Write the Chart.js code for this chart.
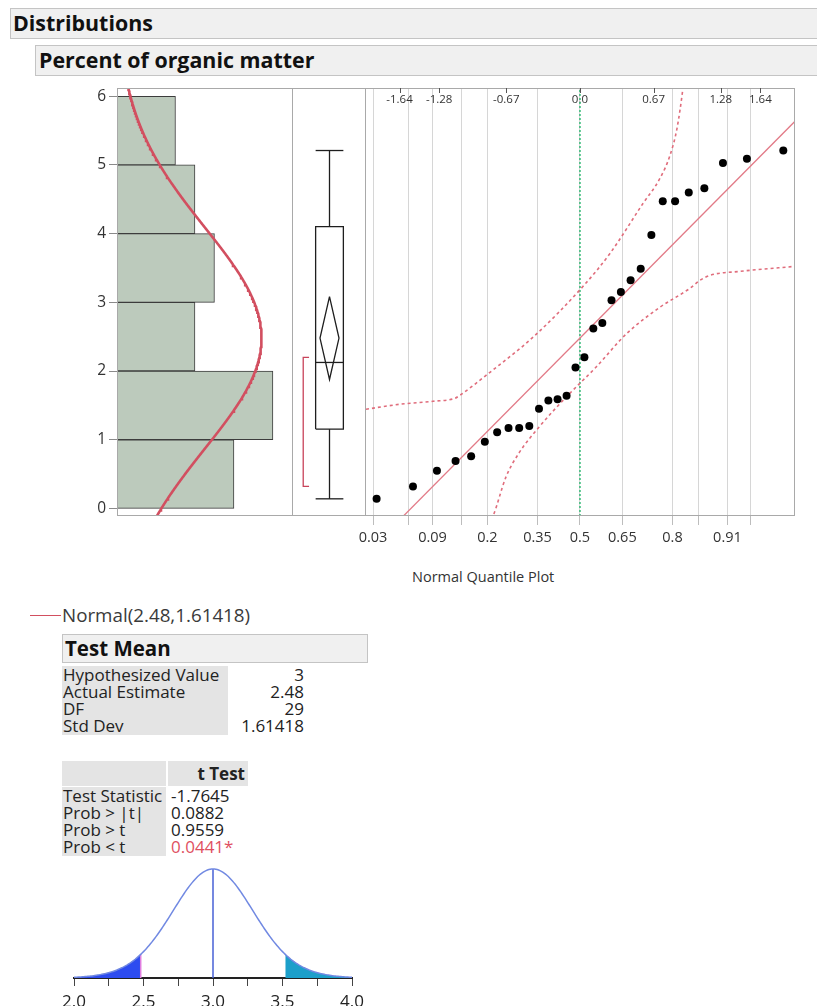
<!DOCTYPE html>
<html>
<head>
<meta charset="utf-8">
<title>Distributions - Percent of organic matter</title>
<script src="https://cdn.jsdelivr.net/npm/chart.js@4.4.1/dist/chart.umd.min.js"></script>
<style>
  html, body { margin: 0; padding: 0; background: #fff; }
  body { width: 817px; height: 1006px; position: relative; overflow: hidden;
         font-family: "Open Sans", "Noto Sans", sans-serif; color: #222; }
  canvas { position: absolute; }
  .hdr { position: absolute; box-sizing: border-box; background: #f0f0f0;
         border: 1px solid #c4c4c4; border-right: none; font-weight: bold;
         color: #111; white-space: nowrap; }
  .txt { position: absolute; white-space: nowrap; }
  .cell { position: absolute; background: #e4e4e4; }
</style>
</head>
<body>
<div class="hdr" style="left:10px;top:8px;width:807px;height:31px;font-size:21.4px;line-height:28px;padding-left:2px">Distributions</div>
<div class="hdr" style="left:35px;top:45px;width:782px;height:31px;font-size:21.4px;line-height:28px;padding-left:3px">Percent of organic matter</div>

<canvas id="hist" width="223" height="440" style="left:70px;top:80px"></canvas>
<canvas id="box" width="73" height="440" style="left:293px;top:80px"></canvas>
<canvas id="nqp" width="477" height="476" style="left:340px;top:80px"></canvas>
<div class="txt" style="left:412px;top:567px;font-size:14.5px;line-height:20px;color:#333">Normal Quantile Plot</div>

<div id="report"></div>
<canvas id="tdist" width="340" height="146" style="left:44px;top:860px"></canvas>

<script>
// ---- Percent of organic matter, 30 soil samples (sorted) ----
const organicMatter = [0.14, 0.32, 0.55, 0.69, 0.76, 0.97, 1.11, 1.17, 1.17, 1.20,
                       1.45, 1.57, 1.59, 1.64, 2.05, 2.20, 2.62, 2.70, 3.03, 3.15,
                       3.32, 3.49, 3.98, 4.47, 4.47, 4.60, 4.66, 5.03, 5.09, 5.21];

// histogram bins and counts
const histBinStarts = [0, 1, 2, 3, 4, 5];
const histCounts = [6, 8, 4, 5, 4, 3];
const valueTicks = [0, 1, 2, 3, 4, 5, 6];

// fitted normal
const fitMean = 2.48;
const fitSD = 1.61418;

// normal quantile plot axes
const probTicks  = [0.03, 0.06, 0.09, 0.14, 0.2, 0.35, 0.5, 0.65, 0.8, 0.86, 0.91, 0.94];
const probLabels = ["0.03", "", "0.09", "", "0.2", "0.35", "0.5", "0.65", "0.8", "", "0.91", ""];
const quantileTicks  = [-1.64, -1.28, -0.67, 0, 0.67, 1.28, 1.64];
const quantileLabels = ["-1.64", "-1.28", "-0.67", "0.0", "0.67", "1.28", "1.64"];

// confidence bands of the quantile plot (normal quantile, value)
const upperBandZ = [-1.945, -1.636, -1.336, -1.136, -1.091, -0.818, -0.418, 0.036, 0.273, 0.573, 0.727, 0.818, 0.882, 0.936, 0.964];
const upperBandY = [1.444, 1.517, 1.560, 1.604, 1.648, 1.982, 2.505, 3.247, 3.712, 4.439, 4.803, 5.137, 5.530, 6.112, 6.52];
const lowerBandZ = [-0.836, -0.791, -0.673, -0.555, -0.373, -0.127, 0.145, 0.427, 0.727, 1.0, 1.091, 1.182, 1.455, 1.955];
const lowerBandY = [-0.228, -0.112, 0.456, 0.805, 1.182, 1.618, 2.055, 2.549, 2.928, 3.204, 3.32, 3.393, 3.451, 3.524];

// Test Mean report
const testMeanLabels = ["Hypothesized Value", "Actual Estimate", "DF", "Std Dev"];
const testMeanValues = ["3", "2.48", "29", "1.61418"];
const tTestLabels = ["Test Statistic", "Prob > |t|", "Prob > t", "Prob < t"];
const tTestValues = ["-1.7645", "0.0882", "0.9559", "0.0441*"];
const hypothesizedMean = 3;
const degreesFreedom = 29;
const tStatistic = -1.7645;
const tCrit95 = 2.0452;

// t-distribution axis
const tAxisTicks  = [2.0, 2.25, 2.5, 2.75, 3.0, 3.25, 3.5, 3.75, 4.0];
const tAxisLabels = ["2.0", "", "2.5", "", "3.0", "", "3.5", "", "4.0"];

// ---- helpers ----
function qnorm(p) {
  const a = [-3.969683028665376e+01, 2.209460984245205e+02, -2.759285104469687e+02, 1.383577518672690e+02, -3.066479806614716e+01, 2.506628277459239e+00];
  const b = [-5.447609879822406e+01, 1.615858368580409e+02, -1.556989798598866e+02, 6.680131188771972e+01, -1.328068155288572e+01];
  const c = [-7.784894002430293e-03, -3.223964580411365e-01, -2.400758277161838e+00, -2.549732539343734e+00, 4.374664141464968e+00, 2.938163982698783e+00];
  const d = [7.784695709041462e-03, 3.224671290700398e-01, 2.445134137142996e+00, 3.754408661907416e+00];
  const pl = 0.02425;
  let q, r;
  if (p < pl) {
    q = Math.sqrt(-2 * Math.log(p));
    return (((((c[0]*q+c[1])*q+c[2])*q+c[3])*q+c[4])*q+c[5]) / ((((d[0]*q+d[1])*q+d[2])*q+d[3])*q+1);
  }
  if (p <= 1 - pl) {
    q = p - 0.5; r = q * q;
    return (((((a[0]*r+a[1])*r+a[2])*r+a[3])*r+a[4])*r+a[5])*q / (((((b[0]*r+b[1])*r+b[2])*r+b[3])*r+b[4])*r+1);
  }
  q = Math.sqrt(-2 * Math.log(1 - p));
  return -(((((c[0]*q+c[1])*q+c[2])*q+c[3])*q+c[4])*q+c[5]) / ((((d[0]*q+d[1])*q+d[2])*q+d[3])*q+1);
}
function lgamma(x) {
  const cf = [0.99999999999980993, 676.5203681218851, -1259.1392167224028, 771.32342877765313,
              -176.61502916214059, 12.507343278686905, -0.13857109526572012, 9.9843695780195716e-6, 1.5056327351493116e-7];
  x -= 1;
  let s = cf[0];
  const t = x + 7.5;
  for (let i = 1; i < 9; i++) s += cf[i] / (x + i);
  return 0.5 * Math.log(2 * Math.PI) + (x + 0.5) * Math.log(t) - t + Math.log(s);
}
function tpdf(t, v) {
  return Math.exp(lgamma((v + 1) / 2) - lgamma(v / 2)) / Math.sqrt(v * Math.PI) * Math.pow(1 + t * t / v, -(v + 1) / 2);
}
function npdf(x, m, s) {
  const z = (x - m) / s;
  return Math.exp(-0.5 * z * z) / (s * Math.sqrt(2 * Math.PI));
}
function quantile(sorted, p) {            // (n+1)p definition
  const n = sorted.length, pos = p * (n + 1);
  const lo = Math.floor(pos);
  if (lo < 1) return sorted[0];
  if (lo >= n) return sorted[n - 1];
  return sorted[lo - 1] + (pos - lo) * (sorted[lo] - sorted[lo - 1]);
}

const n = organicMatter.length;
const sorted = organicMatter.slice().sort((a, b) => a - b);
const q1 = quantile(sorted, 0.25), med = quantile(sorted, 0.5), q3 = quantile(sorted, 0.75);
const iqr = q3 - q1;
const whiskLo = sorted.find(v => v >= q1 - 1.5 * iqr);
const whiskHi = sorted.slice().reverse().find(v => v <= q3 + 1.5 * iqr);
const ciHalf = tCrit95 * fitSD / Math.sqrt(n);
const half = Math.ceil(n / 2);
let shortLo = sorted[0], shortHi = sorted[half - 1];
for (let i = 0; i + half - 1 < n; i++) {
  if (sorted[i + half - 1] - sorted[i] < shortHi - shortLo) { shortLo = sorted[i]; shortHi = sorted[i + half - 1]; }
}

const Y_MIN = -0.11, Y_MAX = 6.12;
const Z_MIN = -1.945, Z_MAX = 1.955;

Chart.defaults.font.family = "'Open Sans', 'Noto Sans', sans-serif";
Chart.defaults.color = '#333';
Chart.defaults.animation = false;
Chart.defaults.responsive = false;
Chart.defaults.devicePixelRatio = 1;
Chart.defaults.plugins.legend.display = false;
Chart.defaults.plugins.tooltip.enabled = false;

// frame around a plot panel
const panelFrame = {
  id: 'panelFrame',
  afterDatasetsDraw(chart, args, opts) {
    const { ctx, chartArea: a } = chart;
    const L = Math.round(a.left) + 0.5, R = Math.round(a.right) - 0.5;
    const T = Math.round(a.top) + 0.5, B = Math.round(a.bottom) - 0.5;
    const s = opts.sides || 'tlrb';
    ctx.save();
    ctx.strokeStyle = opts.color || '#a9a9a9';
    ctx.lineWidth = 1;
    ctx.beginPath();
    if (s.includes('t')) { ctx.moveTo(a.left, T); ctx.lineTo(a.right, T); }
    if (s.includes('b')) { ctx.moveTo(a.left, B); ctx.lineTo(a.right, B); }
    if (s.includes('l')) { ctx.moveTo(L, a.top); ctx.lineTo(L, a.bottom); }
    if (s.includes('r')) { ctx.moveTo(R, a.top); ctx.lineTo(R, a.bottom); }
    ctx.stroke();
    ctx.restore();
  }
};

// short tick marks hanging from the top edge for the normal-quantile scale
const innerTopTicks = {
  id: 'innerTopTicks',
  afterDraw(chart) {
    const sc = chart.scales.xTop;
    if (!sc) return;
    const { ctx, chartArea: a } = chart;
    ctx.save();
    ctx.strokeStyle = '#555';
    ctx.lineWidth = 1;
    ctx.beginPath();
    sc.ticks.forEach(t => {
      const x = Math.round(sc.getPixelForValue(t.value)) + 0.5;
      ctx.moveTo(x, a.top); ctx.lineTo(x, a.top + 5);
    });
    ctx.stroke();
    ctx.restore();
  }
};

function zeroPad(scale) { scale.paddingLeft = 0; scale.paddingRight = 0; scale.paddingTop = 0; scale.paddingBottom = 0; }

// ---- histogram with fitted normal ----
const curveScale = n * (histBinStarts[1] - histBinStarts[0]);
const normalCurve = [];
for (let y = Y_MIN; y <= Y_MAX + 1e-9; y += 0.02) normalCurve.push({ x: curveScale * npdf(y, fitMean, fitSD), y: y });

new Chart(document.getElementById('hist'), {
  type: 'bar',
  data: {
    datasets: [
      { type: 'line', data: normalCurve, borderColor: '#d24f60', borderWidth: 2.6, pointRadius: 0, order: 0, clip: 0 },
      { type: 'bar', data: histCounts.map((c, i) => ({ x: c, y: histBinStarts[i] + 0.5 })),
        backgroundColor: '#bccabc', borderColor: '#3c3c3c', borderWidth: 1,
        barPercentage: 1, categoryPercentage: 1, order: 1 }
    ]
  },
  options: {
    indexAxis: 'y',
    layout: { padding: { top: 8, bottom: 4, left: 0, right: 0 } },
    scales: {
      x: { type: 'linear', min: 0, max: 9.03, display: false, offset: false },
      y: { type: 'linear', min: Y_MIN, max: Y_MAX, offset: false,
           afterBuildTicks: s => { s.ticks = valueTicks.map(v => ({ value: v })); },
           afterFit: s => { s.width = 47; zeroPad(s); },
           grid: { drawOnChartArea: false, drawTicks: true, tickLength: 8, color: '#8a8a8a', offset: false },
           border: { display: false },
           ticks: { font: { size: 15.5 }, color: '#333', padding: 3 } }
    },
    plugins: { panelFrame: { sides: 'tlrb' } }
  },
  plugins: [panelFrame]
});

// ---- outlier box plot ----
const BX = 0.5, BOX_W = 0.19, DIA_W = 0.13, BR_X = 0.14, BR_T = 0.08;
const boxLine = { showLine: true, pointRadius: 0, borderColor: '#1e1e1e', borderWidth: 1.3, fill: false };
new Chart(document.getElementById('box'), {
  type: 'scatter',
  data: {
    datasets: [
      Object.assign({ data: [{ x: BX, y: whiskLo }, { x: BX, y: q1 }] }, boxLine),
      Object.assign({ data: [{ x: BX, y: q3 }, { x: BX, y: whiskHi }] }, boxLine),
      Object.assign({ data: [{ x: BX - BOX_W, y: whiskLo }, { x: BX + BOX_W, y: whiskLo }] }, boxLine),
      Object.assign({ data: [{ x: BX - BOX_W, y: whiskHi }, { x: BX + BOX_W, y: whiskHi }] }, boxLine),
      Object.assign({ data: [{ x: BX - BOX_W, y: q1 }, { x: BX + BOX_W, y: q1 }, { x: BX + BOX_W, y: q3 },
                             { x: BX - BOX_W, y: q3 }, { x: BX - BOX_W, y: q1 }] }, boxLine),
      Object.assign({ data: [{ x: BX - BOX_W, y: med }, { x: BX + BOX_W, y: med }] }, boxLine),
      Object.assign({ data: [{ x: BX, y: fitMean + ciHalf }, { x: BX + DIA_W, y: fitMean }, { x: BX, y: fitMean - ciHalf },
                             { x: BX - DIA_W, y: fitMean }, { x: BX, y: fitMean + ciHalf }] }, boxLine),
      { data: [{ x: BR_X + BR_T, y: shortHi }, { x: BR_X, y: shortHi }, { x: BR_X, y: shortLo }, { x: BR_X + BR_T, y: shortLo }],
        showLine: true, pointRadius: 0, borderColor: '#c8435a', borderWidth: 1.3 }
    ]
  },
  options: {
    layout: { padding: { top: 8, bottom: 4, left: 0, right: 0 } },
    scales: {
      x: { type: 'linear', min: 0, max: 1, display: false },
      y: { type: 'linear', min: Y_MIN, max: Y_MAX, display: false }
    },
    plugins: { panelFrame: { sides: 'tbr' } }
  },
  plugins: [panelFrame]
});

// ---- normal quantile plot ----
const quantilePoints = sorted.map((v, i) => ({ x: qnorm((i + 1) / (n + 1)), y: v }));
const bandStyle = { showLine: true, pointRadius: 0, borderColor: '#e06d7c', borderWidth: 1.6,
                    borderDash: [3, 3], cubicInterpolationMode: 'monotone', clip: 0 };
new Chart(document.getElementById('nqp'), {
  type: 'scatter',
  data: {
    datasets: [
      { data: quantilePoints, pointRadius: 4, pointBackgroundColor: '#000', pointBorderWidth: 0, order: 0 },
      { data: [{ x: Z_MIN, y: fitMean + fitSD * Z_MIN }, { x: Z_MAX, y: fitMean + fitSD * Z_MAX }],
        showLine: true, pointRadius: 0, borderColor: '#e27a87', borderWidth: 1.3, clip: 0, order: 1 },
      Object.assign({ data: upperBandZ.map((z, i) => ({ x: z, y: upperBandY[i] })), order: 2 }, bandStyle),
      Object.assign({ data: lowerBandZ.map((z, i) => ({ x: z, y: lowerBandY[i] })), order: 2 }, bandStyle),
      { data: [{ x: 0, y: Y_MIN }, { x: 0, y: Y_MAX }], showLine: true, pointRadius: 0,
        borderColor: '#3dbd7c', borderWidth: 1.6, borderDash: [2, 2], order: 3 }
    ]
  },
  options: {
    layout: { padding: { top: 8, bottom: 0, left: 26, right: 22 } },
    scales: {
      x: { type: 'linear', position: 'bottom', min: Z_MIN, max: Z_MAX,
           afterBuildTicks: s => { s.ticks = probTicks.map(p => ({ value: qnorm(p) })); },
           afterFit: s => { s.height = 40; zeroPad(s); },
           grid: { color: '#d6d6d6', drawTicks: true, tickLength: 9, tickColor: '#bdbdbd' },
           border: { display: false },
           ticks: { autoSkip: false, maxRotation: 0, font: { size: 14.5 }, color: '#333', padding: 4,
                    callback: (v, i) => probLabels[i] } },
      xTop: { type: 'linear', position: 'top', min: Z_MIN, max: Z_MAX,
              afterBuildTicks: s => { s.ticks = quantileTicks.map(z => ({ value: z })); },
              afterFit: s => { s.height = 0; zeroPad(s); },
              grid: { display: false, drawTicks: false },
              border: { display: false },
              ticks: { mirror: true, padding: 5, autoSkip: false, maxRotation: 0,
                       font: { size: 11.5 }, color: '#333', callback: (v, i) => quantileLabels[i] } },
      y: { type: 'linear', min: Y_MIN, max: Y_MAX, display: false }
    },
    plugins: { panelFrame: { sides: 'tbr' } }
  },
  plugins: [panelFrame, innerTopTicks]
});

// ---- Test Mean report ----
(function buildReport() {
  const root = document.getElementById('report');
  const add = (html) => root.insertAdjacentHTML('beforeend', html);
  const FS = 17, ROW = 17;
  add('<div style="position:absolute;left:30px;top:615px;width:31px;border-top:1.6px solid #d24f60"></div>');
  add('<div class="txt" style="left:62px;top:604px;font-size:18.8px;line-height:22px;color:#3a3a3a">Normal(' +
      fitMean + ',' + fitSD + ')</div>');
  add('<div class="hdr" style="left:62px;top:634px;width:306px;height:29px;border-right:1px solid #c4c4c4;' +
      'font-size:20.5px;line-height:26px;padding-left:2px">Test Mean</div>');
  const A0 = 666;
  add('<div class="cell" style="left:62px;top:' + A0 + 'px;width:166px;height:' + (ROW * 4 + 1) + 'px"></div>');
  testMeanLabels.forEach((lab, i) => {
    const top = A0 + ROW * i;
    add('<div class="txt" style="left:63px;top:' + top + 'px;font-size:' + FS + 'px;line-height:' + ROW + 'px">' + lab + '</div>');
    add('<div class="txt" style="left:222px;width:82px;text-align:right;top:' + top + 'px;font-size:' + FS + 'px;line-height:' + ROW + 'px">' + testMeanValues[i] + '</div>');
  });
  const T0 = 761;
  add('<div class="cell" style="left:62px;top:' + T0 + 'px;width:104px;height:25px"></div>');
  add('<div class="cell" style="left:168px;top:' + T0 + 'px;width:80px;height:25px"></div>');
  add('<div class="txt" style="left:168px;width:77px;text-align:right;top:' + T0 + 'px;font-size:17px;line-height:26px;font-weight:bold">t Test</div>');
  const R0 = 787;
  add('<div class="cell" style="left:62px;top:' + R0 + 'px;width:104px;height:' + (ROW * 4 + 1) + 'px"></div>');
  tTestLabels.forEach((lab, i) => {
    const top = R0 + ROW * i;
    const col = (i === 3) ? '#e0505f' : '#222';
    add('<div class="txt" style="left:63px;top:' + top + 'px;font-size:' + FS + 'px;line-height:' + ROW + 'px">' + lab + '</div>');
    add('<div class="txt" style="left:171px;top:' + top + 'px;font-size:' + FS + 'px;line-height:' + ROW + 'px;color:' + col + '">' + tTestValues[i] + '</div>');
  });
})();

// ---- t distribution under the hypothesized mean ----
const se = fitSD / Math.sqrt(n);
const tCurve = (a, b) => {
  const pts = [];
  for (let x = a; x <= b + 1e-9; x += 0.01) pts.push({ x: x, y: tpdf((x - hypothesizedMean) / se, degreesFreedom) });
  return pts;
};
const estX = hypothesizedMean + tStatistic * se;
const mirrorX = hypothesizedMean - tStatistic * se;
new Chart(document.getElementById('tdist'), {
  type: 'scatter',
  data: {
    datasets: [
      { data: tCurve(2.0, 4.0), showLine: true, pointRadius: 0, borderColor: '#7189e2', borderWidth: 1.5, order: 0 },
      { data: [{ x: hypothesizedMean, y: 0 }, { x: hypothesizedMean, y: tpdf(0, degreesFreedom) }],
        showLine: true, pointRadius: 0, borderColor: '#4760d6', borderWidth: 1.5, order: 1 },
      { data: [{ x: estX, y: 0 }, { x: estX, y: tpdf(tStatistic, degreesFreedom) }],
        showLine: true, pointRadius: 0, borderColor: '#e07ee0', borderWidth: 1.5, order: 1 },
      { data: tCurve(2.0, estX).concat([{ x: estX, y: tpdf(tStatistic, degreesFreedom) }]),
        showLine: true, pointRadius: 0, borderWidth: 0, fill: 'origin', backgroundColor: '#2d4cf0', order: 3 },
      { data: [{ x: mirrorX, y: tpdf(-tStatistic, degreesFreedom) }].concat(tCurve(Math.ceil(mirrorX * 100) / 100, 4.0)),
        showLine: true, pointRadius: 0, borderWidth: 0, fill: 'origin', backgroundColor: '#1c9fca', order: 3 }
    ]
  },
  options: {
    layout: { padding: { top: 5, bottom: 0, left: 30, right: 32 } },
    scales: {
      x: { type: 'linear', min: 2.0, max: 4.0,
           afterBuildTicks: s => { s.ticks = tAxisTicks.map(v => ({ value: v })); },
           afterFit: s => { s.height = 28; zeroPad(s); },
           grid: { drawOnChartArea: false, drawTicks: true, tickLength: 8, color: '#444' },
           border: { display: true, color: '#222', width: 2 },
           ticks: { autoSkip: false, maxRotation: 0, font: { size: 17 }, color: '#222', padding: 6,
                    callback: (v, i) => tAxisLabels[i] } },
      y: { type: 'linear', min: 0, max: 0.41, display: false }
    }
  }
});
</script>
</body>
</html>
